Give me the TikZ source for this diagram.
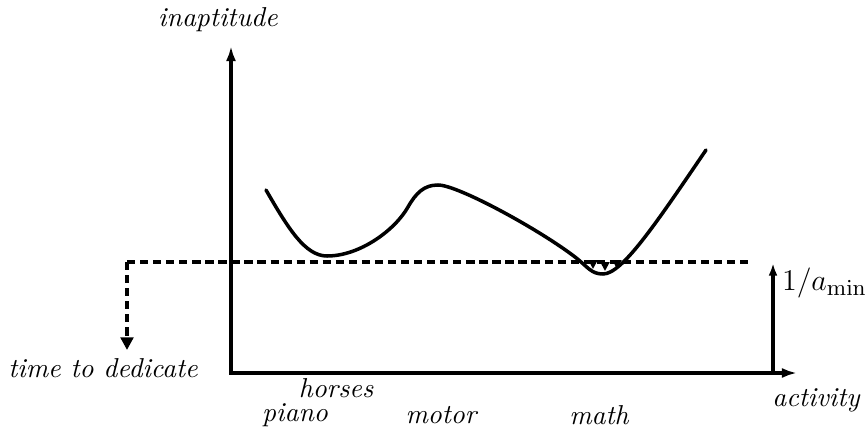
\documentclass[tikz,border=0pt]{standalone}
\usepackage{amsmath}
\usetikzlibrary{arrows.meta}

\begin{document}
\begin{tikzpicture}[
            x=0.014cm, y=-0.014cm,
            axis/.style={-{Latex[length=6pt,width=4pt]}, line width=1.3pt},
            guide/.style={line width=1.3pt, dash pattern=on 3.3pt off 1.9pt},
            drop/.style={-{Triangle[length=3.5pt,width=3.5pt]}, line width=0.8pt},
            lbl/.style={font=\fontsize{10.9}{13}\selectfont\itshape, inner sep=1pt}
        ]
            \useasboundingbox (0,0) rectangle (866,428);
            % axes
            \coordinate (origin) at (231,373);
            \coordinate (ytip) at (231,46);
            \coordinate (xtip) at (797,373);
            \draw[axis] (origin) -- (ytip);
            \draw[axis] ([xshift=-0.6pt]origin) -- (xtip);
            \node[lbl] (inapt) at (218,20) {inaptitude};
            \node[lbl] (act) at (816,400) {activity};
            % threshold
            \coordinate (dleft) at (127,262);
            \coordinate (dright) at (748,262);
            \coordinate (dtip) at (127,350);
            \draw[guide] (dleft) -- (dright);
            \draw[guide, -{Triangle[length=5pt,width=5pt]}] (dleft) -- (dtip);
            \node[lbl] (dedic) at (103,368) {time to dedicate};
            \coordinate (abase) at (773,373);
            \coordinate (atip) at (773,263);
            \draw[axis, -{Latex[length=5pt,width=3.5pt]}] (abase) -- (atip);
            \node[anchor=west, inner sep=1pt, font=\fontsize{13}{15}\selectfont] (amin) at (779,283) {$1/a_{\min}$};
            % inaptitude curve
            \draw[line width=1.4pt, line cap=round]
                (266,190) .. controls (288,228) and (305,256) .. (327,256)
                .. controls (360,256) and (395,230) .. (408,207)
                .. controls (416,193) and (424,185) .. (438,185)
                .. controls (458,185) and (540,230) .. (575,257)
                .. controls (588,267) and (591,274) .. (603,274)
                .. controls (622,274) and (655,225) .. (706,150);
            % small drops at the minimum
            \foreach \dx/\dy in {593/269, 605/271, 617/269}
                \draw[drop] (\dx,262) -- (\dx,\dy);
            % activities
            \node[lbl] (horses) at (336,388) {horses};
            \node[lbl] (piano) at (295,415) {piano};
            \node[lbl] (motor) at (441,415) {motor};
            \node[lbl] (math) at (599,415) {math};
        \end{tikzpicture}
\end{document}
